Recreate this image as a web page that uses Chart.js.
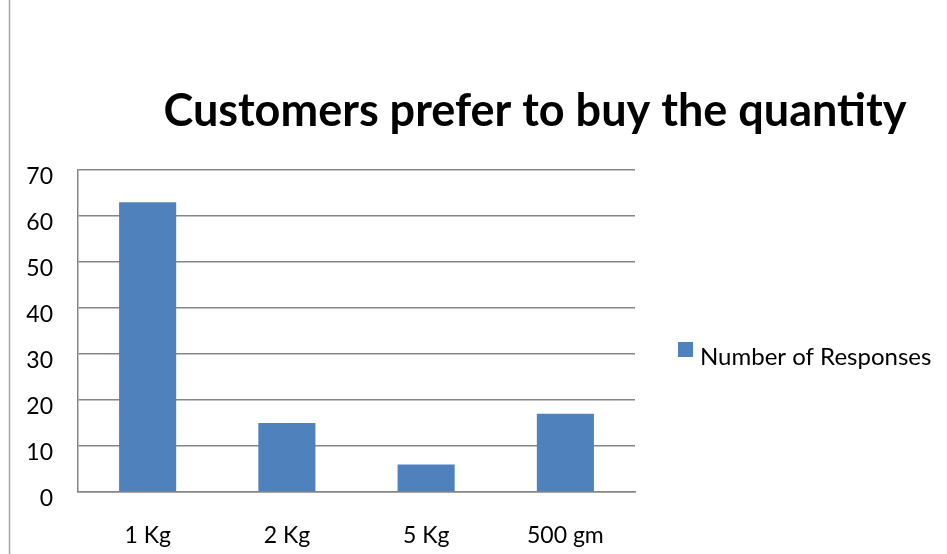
<!DOCTYPE html>
<html>
<head>
<meta charset="utf-8">
<title>Customers prefer to buy the quantity</title>
<script src="https://cdn.jsdelivr.net/npm/chart.js@4.4.1/dist/chart.umd.min.js"></script>
<style>
    body { margin: 0; background: #ffffff; }
    #wrap { position: relative; width: 947px; height: 554px; }
</style>
</head>
<body>
<div id="wrap"><canvas id="quantityChart"></canvas></div>
<script>
// Survey data
const chartTitle = 'Customers prefer to buy the quantity';
const seriesName = 'Number of Responses';
const quantities = ['1 Kg', '2 Kg', '5 Kg', '500 gm'];
const responses = [63, 15, 6, 17];
const yTicks = [0, 10, 20, 30, 40, 50, 60, 70];

const barColor = '#4F81BD';
const gridColor = '#868686';
const fontFamily = 'Lato, "Open Sans", sans-serif';

// Title, legend and left rule are drawn by hand so they sit where Excel put them
const chartDecor = {
    id: 'chartDecor',
    beforeDraw(chart) {
        const ctx = chart.ctx;
        ctx.save();
        ctx.fillStyle = '#ffffff';
        ctx.fillRect(0, 0, chart.width, chart.height);
        ctx.strokeStyle = '#a6a6a6';
        ctx.lineWidth = 1.5;
        ctx.beginPath();
        ctx.moveTo(9.5, 0);
        ctx.lineTo(9.5, chart.height);
        ctx.stroke();
        ctx.restore();
    },
    afterDraw(chart) {
        const ctx = chart.ctx;
        ctx.save();
        ctx.fillStyle = '#000000';
        ctx.font = 'bold 45px ' + fontFamily;
        ctx.textAlign = 'center';
        ctx.textBaseline = 'alphabetic';
        ctx.fillText(chartTitle, 535, 126);

        chart.data.datasets.forEach((ds, i) => {
            const y = 342 + i * 26;
            ctx.fillStyle = ds.backgroundColor;
            ctx.fillRect(678, y, 15, 15);
            ctx.fillStyle = '#000000';
            ctx.font = '24px ' + fontFamily;
            ctx.textAlign = 'left';
            ctx.textBaseline = 'middle';
            ctx.fillText(ds.label, 700, y + 15);
        });
        ctx.restore();
    }
};

function createQuantityChart() {
    const ctx = document.getElementById('quantityChart');
    if (!ctx) return;

    return new Chart(ctx, {
        type: 'bar',
        data: {
            labels: quantities,
            datasets: [{
                label: seriesName,
                data: responses,
                backgroundColor: barColor,
                borderWidth: 0,
                barPercentage: 0.41,
                categoryPercentage: 1
            }]
        },
        options: {
            responsive: true,
            maintainAspectRatio: false,
            animation: false,
            layout: {
                padding: { left: 10, top: 170, right: 312, bottom: 0 }
            },
            plugins: {
                legend: { display: false },
                title: { display: false },
                tooltip: { enabled: false }
            },
            scales: {
                x: {
                    grid: { display: false, drawTicks: false },
                    border: { display: true, color: gridColor, width: 1.5 },
                    ticks: {
                        color: '#000000',
                        padding: 30,
                        font: { family: fontFamily, size: 23 }
                    },
                    afterFit: scale => { scale.height = 62; }
                },
                y: {
                    min: 0,
                    max: 70,
                    afterBuildTicks: scale => {
                        scale.ticks = yTicks.map(v => ({ value: v }));
                    },
                    grid: { color: gridColor, lineWidth: 1.5, drawTicks: false },
                    border: { display: true, color: gridColor, width: 1.5 },
                    ticks: {
                        color: '#000000',
                        padding: 25,
                        labelOffset: 7,
                        font: { family: fontFamily, size: 23 }
                    },
                    afterFit: scale => { scale.width = 68; }
                }
            }
        },
        plugins: [chartDecor]
    });
}

document.addEventListener('DOMContentLoaded', function() {
    createQuantityChart();
});
</script>
</body>
</html>
